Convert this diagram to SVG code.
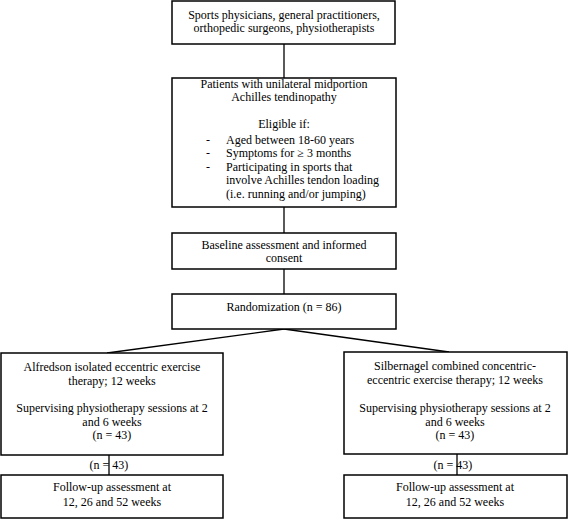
<svg xmlns="http://www.w3.org/2000/svg" width="568" height="519" viewBox="0 0 568 519">
<style>
.b{fill:#fff;stroke:#000;stroke-width:1.5}
.c{fill:none;stroke:#000;stroke-width:1.3}
text{font-family:"Liberation Serif","Times New Roman",serif;font-size:12px;fill:#000}
.m{text-anchor:middle}
</style>
<rect width="568" height="519" fill="#fff"/>
<g id="connectors">
<line class="c" x1="284" y1="44" x2="284" y2="78"/>
<line class="c" x1="284" y1="207" x2="284" y2="233"/>
<line class="c" x1="284" y1="269" x2="284" y2="294"/>
<line class="c" x1="284" y1="329" x2="107" y2="353"/>
<line class="c" x1="284" y1="329" x2="449" y2="352"/>
</g>
<g id="n1"><rect class="b" x="172" y="1" width="223" height="43"/>
<text class="m" x="284" y="19">Sports physicians, general practitioners,</text>
<text class="m" x="284" y="32">orthopedic surgeons, physiotherapists</text></g>
<g id="n2"><rect class="b" x="172" y="78" width="224" height="129"/>
<text class="m" x="284" y="88">Patients with unilateral midportion</text>
<text class="m" x="284" y="101">Achilles tendinopathy</text>
<text class="m" x="284" y="128">Eligible if:</text>
<text x="206" y="144">-</text><text x="226" y="144">Aged between 18-60 years</text>
<text x="206" y="157">-</text><text x="226" y="157">Symptoms for ≥ 3 months</text>
<text x="206" y="171">-</text><text x="226" y="171">Participating in sports that</text>
<text x="226" y="184">involve Achilles tendon loading</text>
<text x="226" y="198">(i.e. running and/or jumping)</text></g>
<g id="n3"><rect class="b" x="172" y="233" width="224" height="36"/>
<text class="m" x="284" y="249">Baseline assessment and informed</text>
<text class="m" x="284" y="262">consent</text></g>
<g id="n4"><rect class="b" x="172" y="294" width="224" height="35"/>
<text class="m" x="284" y="311">Randomization (n = 86)</text></g>
<g id="n5"><rect class="b" x="1" y="353" width="222" height="102"/>
<text class="m" x="112" y="371">Alfredson isolated eccentric exercise</text>
<text class="m" x="112" y="385">therapy; 12 weeks</text>
<text class="m" x="112" y="412">Supervising physiotherapy sessions at 2</text>
<text class="m" x="112" y="426">and 6 weeks</text>
<text class="m" x="112" y="439">(n = 43)</text></g>
<g id="n6"><rect class="b" x="344" y="352" width="223" height="102"/>
<text class="m" x="455" y="370">Silbernagel combined concentric-</text>
<text class="m" x="455" y="384">eccentric exercise therapy; 12 weeks</text>
<text class="m" x="455" y="412">Supervising physiotherapy sessions at 2</text>
<text class="m" x="455" y="426">and 6 weeks</text>
<text class="m" x="455" y="439">(n = 43)</text></g>
<g id="l1"><text class="m" x="109" y="469">(n = 43)</text></g>
<g id="l2"><text class="m" x="453" y="469">(n = 43)</text></g>
<g id="connectors2">
<line class="c" x1="109" y1="455" x2="109" y2="475"/>
<line class="c" x1="457" y1="454" x2="457" y2="475"/>
</g>
<g id="n7"><rect class="b" x="1" y="475" width="222" height="43"/>
<text class="m" x="112" y="491">Follow-up assessment at</text>
<text class="m" x="112" y="506">12, 26 and 52 weeks</text></g>
<g id="n8"><rect class="b" x="344" y="475" width="223" height="43"/>
<text class="m" x="455" y="491">Follow-up assessment at</text>
<text class="m" x="455" y="506">12, 26 and 52 weeks</text></g>
</svg>
